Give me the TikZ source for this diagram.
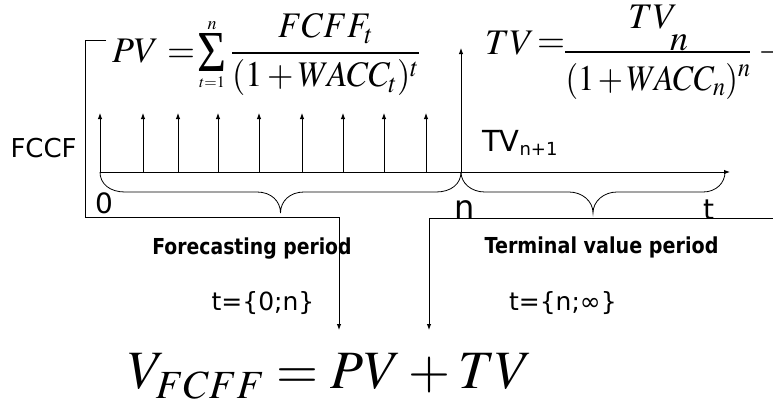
\documentclass[tikz,border=0pt]{standalone}
\usepackage{mathptmx}
\usepackage[no-math]{fontspec}
\setmainfont{DejaVu Sans}
\newfontfamily\tnrfont{Liberation Serif}
\usetikzlibrary{arrows.meta}
\begin{document}
\begin{tikzpicture}[x=1pt,y=-1pt,line width=0.9pt,
  arr/.style={-{Latex[length=6pt,width=4.5pt]}},
  txt/.style={inner sep=0pt,outer sep=0pt},
  lab/.style={txt,font=\fontsize{28}{30}\selectfont},
  boldlab/.style={txt,font=\fontsize{22}{24}\selectfont\bfseries},
  rng/.style={txt,font=\fontsize{25}{27}\selectfont},
  mth/.style={txt,font=\fontsize{36}{40}\selectfont},
  lim/.style={txt,font=\fontsize{18}{20}\selectfont},
  bigmth/.style={txt,font=\fontsize{54}{60}\selectfont},
  brc/.style={line width=0.8pt}]
\path[use as bounding box] (0,0) rectangle (773,400);

% PV formula
\node[mth,anchor=base west] (pvl) at (112,62) {$PV$};
\node[mth,anchor=base west] (pveq) at (167,62) {$=$};
\node[txt] (sum) at (212,52.5) {\resizebox{29pt}{38pt}{\tnrfont Σ}};
\node[lim,anchor=base] (sumn) at (212,29) {$n$};
\node[lim,anchor=base,font=\fontsize{16}{18}\selectfont] (sumt) at (212,87) {$t{=}1$};
\node[mth,anchor=base west] (pvfrac) at (231,62) {\resizebox{189pt}{\height}{$\displaystyle\frac{FCFF_t}{\medmuskip=2mu(1+WACC_t)^t}$}};

% TV formula
\node[mth,anchor=base west] (tvl) at (485,54) {$TV$};
\node[mth,anchor=base west] (tveq) at (537,52) {$=$};
\node[mth,anchor=base] (tvnum) at (653,28) {$TV$};
\node[mth,anchor=base] (tvn) at (679,50) {$n$};
\node[mth,anchor=base] (tvden) at (658,90) {\resizebox{185pt}{\height}{$\medmuskip=2mu(1+WACC_n)^n$}};
\coordinate (barL) at (565,52);
\coordinate (barR) at (750,52);
\draw[line width=1.2pt] (barL) -- (barR);
\node[mth,anchor=base] (cut) at (772,61) {$-$};

% labels
\node[lab,anchor=base west,font=\fontsize{26}{28}\selectfont] (fccf) at (10.5,157) {FCCF};
\node[lab,anchor=base west] (zero) at (95,213) {0};
\node[lab,anchor=base west,font=\fontsize{32}{34}\selectfont] (nlab) at (454,218) {n};
\node[lab,anchor=base west] (tlab) at (703,219) {t};
\node[txt,anchor=base west,font=\fontsize{29}{30}\selectfont] (tvn1) at (482,151) {TV\raisebox{-4pt}{\fontsize{18}{20}\selectfont n+1}};

\node[boldlab,anchor=base] (fp) at (252,254) {\scalebox{0.855}[1]{Forecasting period}};
\node[boldlab,anchor=base] (tp) at (601.5,253) {\scalebox{0.87}[1]{Terminal value period}};
\node[rng,anchor=base] (r1) at (263,310) {t=\{0;n\}};
\node[rng,anchor=base west] (r2) at (509,310) {t=\{n;∞\}};

\node[bigmth,anchor=base west] (vf) at (128,388) {$V_{\raisebox{-2pt}{$\scriptstyle FCFF$}}=PV+TV$};

% axis and cash-flow arrows
\coordinate (ax0) at (100,172);
\coordinate (ax1) at (730,172);
\draw[arr] (ax0) -- (ax1);
\foreach \x [count=\i] in {100,143,178,218,259,302,343,384,426}{
  \coordinate (b\i) at (\x,172);
  \coordinate (u\i) at (\x,113);
  \draw[arr] (b\i) -- (u\i);
}
\coordinate (nb) at (461,172);
\coordinate (nu) at (461,48);
\draw[arr] (nb) -- (nu);

% braces
\draw[brc] (100,172) .. controls (100,184) and (110,192) .. (125,192) -- (257,192)
  .. controls (271,192) and (280.5,201) .. (280.5,213)
  .. controls (280.5,201) and (290,192) .. (304,192) -- (436,192)
  .. controls (451,192) and (461,184) .. (461,172);
\draw[brc] (461,172) .. controls (461,183) and (471,192) .. (485,192) -- (569,192)
  .. controls (582,192) and (593,201) .. (593,213)
  .. controls (593,201) and (604,192) .. (617,192) -- (703,192)
  .. controls (716,192) and (725,183) .. (725,172);

% collecting lines
\coordinate (l0) at (106,40);
\coordinate (l1) at (85,40);
\coordinate (l2) at (85,217);
\coordinate (l3) at (339,217);
\coordinate (l4) at (339,330);
\draw[arr,line width=1pt] (l0) -- (l1) -- (l2) -- (l3) -- (l4);
\coordinate (r0) at (773,218);
\coordinate (r1c) at (429,218);
\coordinate (r2c) at (429,330);
\draw[arr,line width=1pt] (r0) -- (r1c) -- (r2c);
\end{tikzpicture}
\end{document}
